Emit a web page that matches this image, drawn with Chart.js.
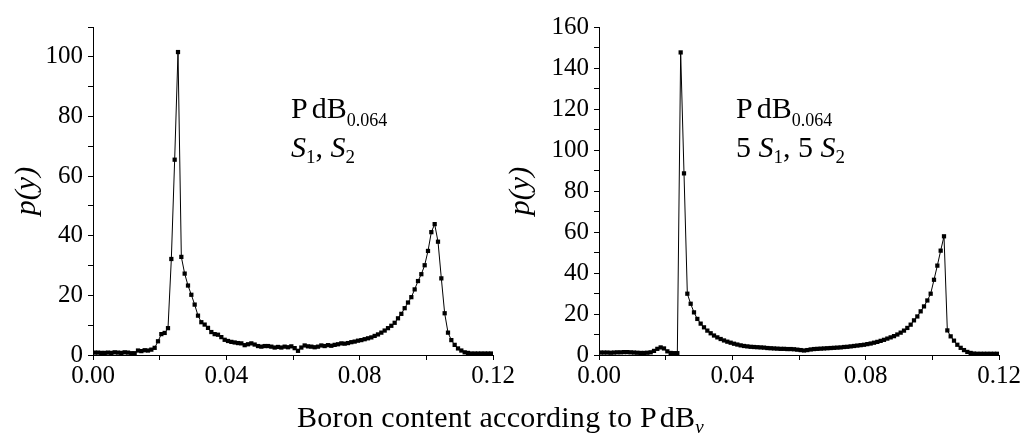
<!DOCTYPE html>
<html>
<head>
<meta charset="utf-8">
<script src="https://cdn.jsdelivr.net/npm/chart.js@4/dist/chart.umd.min.js"></script>
<style>
  body { margin: 0; background: #fff; }
  #wrap { position: relative; width: 1024px; height: 437px; font-family: "Liberation Serif", "DejaVu Serif", serif; color: #000; }
  canvas { position: absolute; left: 0; top: 0; }
  .txt { position: absolute; font-size: 30px; line-height: 30px; white-space: nowrap; }
  .sub { font-size: 18px; line-height: 0; vertical-align: -8px; }
  .sub2 { font-size: 19px; line-height: 0; vertical-align: -6px; }
</style>
</head>
<body>
<div id="wrap">
  <canvas id="leftChart" width="1024" height="437"></canvas>
  <canvas id="rightChart" width="1024" height="437"></canvas>

  <div class="txt" style="left:291px;top:93px"><span style="letter-spacing:4px">P</span>dB<span class="sub">0.064</span></div>
  <div class="txt" style="left:291px;top:132px"><i>S</i><span class="sub2">1</span>, <i>S</i><span class="sub2">2</span></div>

  <div class="txt" style="left:736px;top:93px"><span style="letter-spacing:4px">P</span>dB<span class="sub">0.064</span></div>
  <div class="txt" style="left:736px;top:132px">5 <i>S</i><span class="sub2">1</span>, 5 <i>S</i><span class="sub2">2</span></div>

  <div class="txt" style="left:297px;top:402px;letter-spacing:0.3px">Boron content according to <span style="letter-spacing:3px">P</span>dB<span class="sub2"><i>v</i></span></div>
</div>

<script>
// histogram bins: 0.001 wide, from 0 to 0.12 (points sit at the bin centres)
const binWidth = 0.001;
const binCount = 120;

// p(y) for S1, S2 (left panel)
const pS1S2 = [
  0.8, 0.8, 0.7, 0.7, 0.8, 0.7, 0.9, 0.8, 0.7, 0.9,
  0.8, 0.6, 0.6, 1.5, 1.3, 1.6, 1.5, 1.8, 2.4, 4.6,
  7.0, 7.4, 9.0, 32.2, 65.5, 101.6, 32.9, 27.3, 23.3, 20.2,
  16.9, 13.2, 11.0, 10.2, 9.1, 7.7, 7.0, 6.8, 6.0, 5.1,
  4.7, 4.4, 4.2, 4.0, 3.9, 3.3, 3.6, 3.9, 3.5, 3.0,
  2.8, 3.0, 3.0, 2.8, 2.5, 2.7, 2.5, 2.8, 2.6, 2.9,
  2.3, 1.4, 2.5, 3.2, 2.9, 2.8, 2.6, 2.8, 3.2, 3.0,
  3.3, 3.1, 3.4, 3.6, 3.9, 3.8, 4.0, 4.3, 4.5, 4.8,
  5.0, 5.3, 5.6, 5.9, 6.4, 6.9, 7.5, 8.2, 9.0, 9.8,
  10.8, 12.3, 13.8, 15.7, 17.6, 19.4, 22.0, 24.8, 27.1, 30.1,
  34.9, 41.2, 43.9, 38.0, 25.7, 14.0, 7.5, 5.0, 3.4, 2.2,
  1.5, 0.9, 0.7, 0.5, 0.5, 0.5, 0.5, 0.5, 0.5, 0.5
];

// p(y) for 5 S1, 5 S2 (right panel)
const p5S1S2 = [
  1.2, 1.2, 1.2, 1.1, 1.2, 1.3, 1.3, 1.4, 1.4, 1.3,
  1.2, 1.1, 1.0, 1.0, 1.1, 1.3, 2.0, 3.0, 3.7, 3.2,
  1.8, 1.0, 0.9, 0.9, 147.6, 88.6, 29.9, 25.0, 20.8, 17.6,
  15.3, 13.5, 11.9, 10.6, 9.5, 8.6, 7.8, 7.1, 6.5, 6.0,
  5.5, 5.1, 4.7, 4.4, 4.2, 4.0, 3.9, 3.8, 3.7, 3.6,
  3.4, 3.3, 3.2, 3.1, 3.0, 3.0, 2.9, 2.9, 2.8, 2.6,
  2.4, 2.2, 2.4, 2.7, 2.9, 3.0, 3.1, 3.2, 3.3, 3.4,
  3.5, 3.6, 3.7, 3.9, 4.0, 4.2, 4.4, 4.6, 4.8, 5.0,
  5.3, 5.6, 6.0, 6.4, 6.9, 7.4, 8.0, 8.6, 9.2, 10.0,
  10.9, 11.9, 13.2, 14.8, 16.9, 18.8, 21.3, 23.7, 26.6, 29.9,
  36.7, 43.6, 50.9, 57.9, 12.0, 9.1, 7.0, 5.0, 3.5, 2.4,
  1.5, 1.0, 0.7, 0.6, 0.6, 0.6, 0.6, 0.6, 0.6, 0.6
];

// axis ranges / tick labels
const xRange = [0, 0.12];
const xTickStep = 0.02;      // minor ticks every 0.02, labels every 0.04
const leftYMax = 110;
const rightYMax = 160;
const yTickStep = 10;        // minor ticks every 10, labels every 20
const yTitle = 'p(y)';

Chart.defaults.font.family = '"Liberation Serif", "DejaVu Serif", serif';
Chart.defaults.color = '#000';

function toPoints(values) {
  const pts = [];
  for (let i = 0; i < binCount; i++) {
    pts.push({ x: binWidth * (i + 0.5), y: values[i] });
  }
  return pts;
}

function makeChart(id, values, yMax, yLabelMax, pad, titlePad) {
  const ctx = document.getElementById(id).getContext('2d');
  return new Chart(ctx, {
    type: 'line',
    data: {
      datasets: [{
        data: toPoints(values),
        borderColor: '#000',
        borderWidth: 1,
        backgroundColor: '#000',
        pointStyle: 'rect',
        pointRadius: 3,
        pointBorderWidth: 0,
        pointBackgroundColor: '#000',
        tension: 0,
        fill: false
      }]
    },
    options: {
      responsive: false,
      animation: false,
      layout: { padding: pad },
      plugins: { legend: { display: false }, tooltip: { enabled: false } },
      scales: {
        x: {
          type: 'linear',
          min: xRange[0],
          max: xRange[1],
          afterFit: s => { s.height = 82; },
          border: { display: true, color: '#000', width: 1 },
          grid: { drawOnChartArea: false, drawTicks: true, tickLength: 5, color: '#000' },
          ticks: {
            stepSize: xTickStep,
            autoSkip: false,
            maxRotation: 0,
            padding: 1,
            font: { size: 25 },
            callback: v => (Math.round(v / xTickStep) % 2 === 0 ? v.toFixed(2) : '')
          }
        },
        y: {
          min: 0,
          max: yMax,
          afterFit: s => { s.width = 93; },
          border: { display: true, color: '#000', width: 1 },
          grid: { drawOnChartArea: false, drawTicks: true, tickLength: 5, color: '#000' },
          title: {
            display: true,
            text: yTitle,
            font: { size: 30, style: 'italic', lineHeight: 1 },
            padding: { top: titlePad, bottom: 0 }
          },
          ticks: {
            stepSize: yTickStep,
            autoSkip: false,
            padding: 5,
            font: { size: 25 },
            callback: v => (v % 20 === 0 && v <= yLabelMax ? String(v) : '')
          }
        }
      }
    }
  });
}

document.addEventListener('DOMContentLoaded', function() {
  makeChart('leftChart', pS1S2, leftYMax, 100, { left: 0, right: 531, top: 27, bottom: 0 }, 12);
  makeChart('rightChart', p5S1S2, rightYMax, 160, { left: 506, right: 25, top: 27, bottom: 0 }, 0);
});
</script>
</body>
</html>
